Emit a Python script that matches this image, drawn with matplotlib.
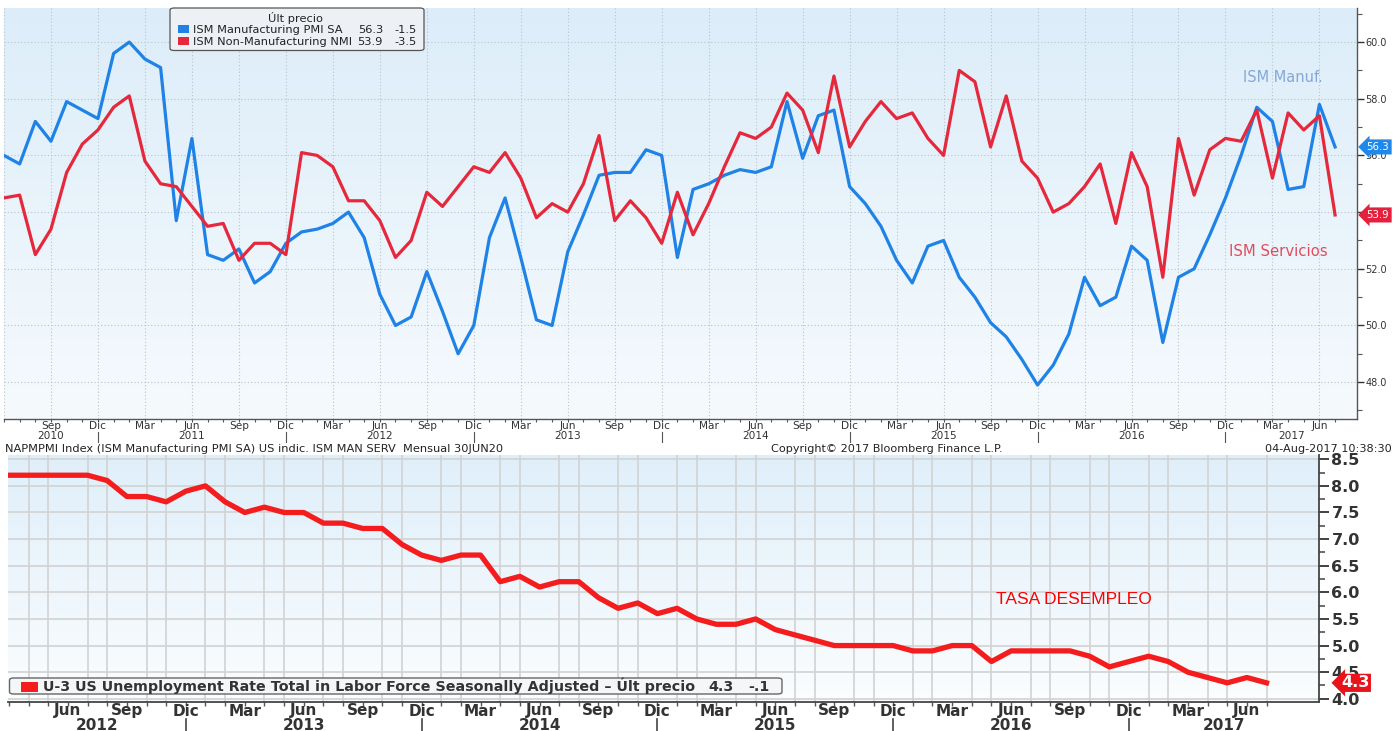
import numpy as np
import pandas as pd
import matplotlib
matplotlib.use("Agg")
import matplotlib.pyplot as plt
from matplotlib import transforms
from matplotlib.colors import LinearSegmentedColormap
from matplotlib.patches import FancyBboxPatch, Rectangle
from matplotlib.lines import Line2D
from matplotlib.ticker import MultipleLocator, FormatStrFormatter

# ---------------- data ----------------
ism_months = pd.period_range("2010-06", "2017-07", freq="M")
ism_manuf = [56.0, 55.7, 57.2, 56.5, 57.9, 57.6, 57.3, 59.6, 60.0, 59.4, 59.1, 53.7,
             56.6, 52.5, 52.3, 52.7, 51.5, 51.9, 52.9, 53.3, 53.4, 53.6, 54.0, 53.1,
             51.1, 50.0, 50.3, 51.9, 50.5, 49.0, 50.0, 53.1, 54.5, 52.4, 50.2, 50.0,
             52.6, 53.9, 55.3, 55.4, 55.4, 56.2, 56.0, 52.4, 54.8, 55.0, 55.3, 55.5,
             55.4, 55.6, 57.9, 55.9, 57.4, 57.6, 54.9, 54.3, 53.5, 52.3, 51.5, 52.8,
             53.0, 51.7, 51.0, 50.1, 49.6, 48.8, 47.9, 48.6, 49.7, 51.7, 50.7, 51.0,
             52.8, 52.3, 49.4, 51.7, 52.0, 53.2, 54.5, 56.0, 57.7, 57.2, 54.8, 54.9,
             57.8, 56.3]
ism_serv = [54.5, 54.6, 52.5, 53.4, 55.4, 56.4, 56.9, 57.7, 58.1, 55.8, 55.0, 54.9,
            54.2, 53.5, 53.6, 52.3, 52.9, 52.9, 52.5, 56.1, 56.0, 55.6, 54.4, 54.4,
            53.7, 52.4, 53.0, 54.7, 54.2, 54.9, 55.6, 55.4, 56.1, 55.2, 53.8, 54.3,
            54.0, 55.0, 56.7, 53.7, 54.4, 53.8, 52.9, 54.7, 53.2, 54.3, 55.6, 56.8,
            56.6, 57.0, 58.2, 57.6, 56.1, 58.8, 56.3, 57.2, 57.9, 57.3, 57.5, 56.6,
            56.0, 59.0, 58.6, 56.3, 58.1, 55.8, 55.2, 54.0, 54.3, 54.9, 55.7, 53.6,
            56.1, 54.9, 51.7, 56.6, 54.6, 56.2, 56.6, 56.5, 57.6, 55.2, 57.5, 56.9,
            57.4, 53.9]
unemp_months = pd.period_range("2012-03", "2017-07", freq="M")
unemp_rate = [8.2, 8.2, 8.2, 8.2, 8.2, 8.1, 7.8, 7.8, 7.7, 7.9, 8.0, 7.7,
              7.5, 7.6, 7.5, 7.5, 7.3, 7.3, 7.2, 7.2, 6.9, 6.7, 6.6, 6.7,
              6.7, 6.2, 6.3, 6.1, 6.2, 6.2, 5.9, 5.7, 5.8, 5.6, 5.7, 5.5,
              5.4, 5.4, 5.5, 5.3, 5.2, 5.1, 5.0, 5.0, 5.0, 5.0, 4.9, 4.9,
              5.0, 5.0, 4.7, 4.9, 4.9, 4.9, 4.9, 4.8, 4.6, 4.7, 4.8, 4.7,
              4.5, 4.4, 4.3, 4.4, 4.3]
month_abbr = {3: "Mar", 6: "Jun", 9: "Sep", 12: "Dic"}
manuf_label = "ISM Manufacturing PMI SA"
serv_label = "ISM Non-Manufacturing NMI"
manuf_last, manuf_chg = "56.3", "-1.5"
serv_last, serv_chg = "53.9", "-3.5"
unemp_label = "U-3 US Unemployment Rate Total in Labor Force Seasonally Adjusted \u2013 \u00dalt precio"
unemp_last, unemp_chg = "4.3", "-.1"

# ---------------- figure ----------------
W, H = 1393, 731
fig = plt.figure(figsize=(W / 100, H / 100), dpi=100)
fig.patch.set_facecolor("white")


def fx(x):
    return x / W


def fy(y):
    return 1 - y / H


def rect_px(x0, y0, x1, y1):
    return [fx(x0), fy(y1), (x1 - x0) / W, (y1 - y0) / H]


BLUE = "#1e82e6"
RED = "#e6283c"
RED2 = "#f41c1c"
TXT = "#333333"

grad_top = LinearSegmentedColormap.from_list("g1", ["#f6fafd", "#dcedf9"])
grad_bot = LinearSegmentedColormap.from_list("g2", ["#fbfdfe", "#dfeffa"])

# ---------- top panel ----------
r1 = rect_px(4, 7.5, 1357, 419)
bg1 = fig.add_axes(r1, zorder=0)
bg1.imshow(np.linspace(0, 1, 256).reshape(-1, 1), aspect="auto", cmap=grad_top,
           origin="lower", extent=[0, 1, 0, 1])
bg1.set_axis_off()
ax1 = fig.add_axes(r1, zorder=1)
ax1.set_facecolor("none")

x1 = np.arange(len(ism_months))
ax1.plot(x1, ism_manuf, color=BLUE, lw=2.3, zorder=3)
ax1.plot(x1, ism_serv, color=RED, lw=2.3, zorder=4)
ax1.set_xlim(0, 86.4)
ax1.set_ylim(46.7, 61.22)

q1 = [k for k, p in enumerate(ism_months) if p.month in month_abbr]
ax1.set_xticks(q1)
ax1.set_xticks(x1, minor=True)
ax1.set_xticklabels([])
ax1.tick_params(axis="x", which="both", direction="out", length=2.3, width=0.8,
                color="#555555")
ax1.yaxis.tick_right()
ax1.yaxis.set_major_locator(MultipleLocator(2))
ax1.yaxis.set_minor_locator(MultipleLocator(1))
ax1.yaxis.set_major_formatter(FormatStrFormatter("%.1f"))
ax1.tick_params(axis="y", which="major", length=5, width=1.0, color="#333333",
                labelsize=7, labelcolor=TXT, pad=1)
ax1.tick_params(axis="y", which="minor", length=3.5, width=0.8, color="#555555")
ax1.grid(True, which="major", color="#b9c3cc", linestyle=(0, (1, 2)), lw=0.8)
for s in ("left", "top"):
    ax1.spines[s].set_visible(False)
for s in ("bottom", "right"):
    ax1.spines[s].set_color("#555555")
    ax1.spines[s].set_linewidth(1.0)

bt1 = transforms.blended_transform_factory(ax1.transData, fig.transFigure)
for k, p in enumerate(ism_months):
    if p.month in month_abbr and k >= 2:
        fig.text(k, fy(429.3), month_abbr[p.month], transform=bt1, ha="center",
                 va="baseline", fontsize=7.6, color=TXT)
    if p.month == 12:
        fig.add_artist(Line2D([k, k], [fy(431.5), fy(441.5)], transform=bt1,
                              color="#555555", lw=0.8))
dec1 = [k for k, p in enumerate(ism_months) if p.month == 12]
bounds1 = [0] + dec1 + [86.4]
years1 = sorted(set(p.year for p in ism_months))
for i, yr in enumerate(years1):
    c = (bounds1[i] + bounds1[i + 1]) / 2
    fig.text(c, fy(439.3), str(yr), transform=bt1, ha="center", va="baseline",
             fontsize=7.6, color=TXT)

# badges top
bty1 = transforms.blended_transform_factory(ax1.transAxes, ax1.transData)
ax1.text(1 + 9.5 / 1353, ism_manuf[-1], manuf_last, transform=bty1, ha="left",
         va="center", fontsize=7.3, color="white", zorder=10, clip_on=False,
         bbox=dict(boxstyle="larrow,pad=0.25", fc="#1f88ea", ec="none"))
ax1.text(1 + 9.5 / 1353, ism_serv[-1], serv_last, transform=bty1, ha="left",
         va="center", fontsize=7.3, color="white", zorder=10, clip_on=False,
         bbox=dict(boxstyle="larrow,pad=0.25", fc="#e4203c", ec="none"))

# series labels
fig.text(fx(1283), fy(78), "ISM Manuf.", ha="center", va="center", fontsize=10.5,
         color="#86a8d8")
fig.text(fx(1278), fy(251), "ISM Servicios", ha="center", va="center",
         fontsize=10.7, color="#df4d5a")

# top legend
fig.add_artist(FancyBboxPatch((fx(170), fy(50.5)), 254 / W, 42.5 / H,
                              boxstyle="round,pad=0,rounding_size=0.003",
                              transform=fig.transFigure, fc="#edf1f5",
                              ec="#555555", lw=0.9, zorder=20))
fig.text(fx(296), fy(21.5), "\u00dalt precio", ha="center", va="baseline",
         fontsize=8.2, color="#222222", zorder=21)
for yb, col, lab, last, chg in ((33.3, BLUE, manuf_label, manuf_last, manuf_chg),
                                (45.0, RED, serv_label, serv_last, serv_chg)):
    fig.add_artist(Rectangle((fx(177.5), fy(yb)), 11.5 / W, 8 / H,
                             transform=fig.transFigure, fc=col, ec="none",
                             zorder=21))
    fig.text(fx(193), fy(yb), lab, ha="left", va="baseline", fontsize=8.2,
             color="#222222", zorder=21)
    fig.text(fx(383), fy(yb), last, ha="right", va="baseline", fontsize=8.2,
             color="#222222", zorder=21)
    fig.text(fx(417), fy(yb), chg, ha="right", va="baseline", fontsize=8.2,
             color="#222222", zorder=21)

# footer line
fig.text(fx(5), fy(451.7),
         "NAPMPMI Index (ISM Manufacturing PMI SA) US indic. ISM MAN SERV  Mensual 30JUN20",
         ha="left", va="baseline", fontsize=8.2, color="#222222")
fig.text(fx(771), fy(451.7), "Copyright\u00a9 2017 Bloomberg Finance L.P.",
         ha="left", va="baseline", fontsize=8.1, color="#222222")
fig.text(fx(1392), fy(451.7), "04-Aug-2017 10:38:30", ha="right",
         va="baseline", fontsize=8.1, color="#222222")

# ---------- bottom panel ----------
r2 = rect_px(8, 455, 1319, 702)
bg2 = fig.add_axes(r2, zorder=0)
bg2.imshow(np.linspace(0, 1, 256).reshape(-1, 1), aspect="auto", cmap=grad_bot,
           origin="lower", extent=[0, 1, 0, 1])
bg2.set_axis_off()
ax2 = fig.add_axes(r2, zorder=1)
ax2.set_facecolor("none")

x2 = np.arange(len(unemp_months))
ax2.plot(x2, unemp_rate, color=RED2, lw=3.8, zorder=3, solid_joinstyle="round")
ax2.set_xlim(-0.05, 66.67)
ax2.set_ylim(3.94, 8.58)

q2 = [k for k, p in enumerate(unemp_months) if p.month in month_abbr]
ax2.set_xticks(q2)
ax2.set_xticks(x2, minor=True)
ax2.set_xticklabels([])
ax2.tick_params(axis="x", which="both", direction="out", length=2.8, width=1.0,
                color="#555555")
ax2.yaxis.tick_right()
ax2.yaxis.set_major_locator(MultipleLocator(0.5))
ax2.yaxis.set_minor_locator(MultipleLocator(0.25))
ax2.yaxis.set_major_formatter(FormatStrFormatter("%.1f"))
ax2.tick_params(axis="y", which="major", length=7, width=1.3, color="#333333",
                labelsize=11.5, labelcolor="#333333", pad=2)
ax2.tick_params(axis="y", which="minor", length=4.3, width=1.1, color="#444444")
for lab in ax2.get_yticklabels():
    lab.set_fontweight("bold")
ax2.grid(True, which="minor", axis="x", color="#d2d2d2", lw=1.2)
ax2.grid(True, which="major", axis="y", color="#d2d2d2", lw=1.2)
for s in ("left", "top"):
    ax2.spines[s].set_visible(False)
for s in ("bottom", "right"):
    ax2.spines[s].set_color("#444444")
    ax2.spines[s].set_linewidth(1.3)

bt2 = transforms.blended_transform_factory(ax2.transData, fig.transFigure)
for k, p in enumerate(unemp_months):
    if p.month in month_abbr and k >= 2:
        fig.text(k, fy(715.5), month_abbr[p.month], transform=bt2, ha="center",
                 va="baseline", fontsize=11, fontweight="bold", color="#333333")
    if p.month == 12:
        fig.add_artist(Line2D([k, k], [fy(718.5), fy(731)], transform=bt2,
                              color="#444444", lw=1.2))
dec2 = [k for k, p in enumerate(unemp_months) if p.month == 12]
bounds2 = [-0.05] + dec2 + [66.67]
years2 = sorted(set(p.year for p in unemp_months))
for i, yr in enumerate(years2):
    c = (bounds2[i] + bounds2[i + 1]) / 2
    fig.text(c, fy(729.5), str(yr), transform=bt2, ha="center", va="baseline",
             fontsize=11, fontweight="bold", color="#333333")

bty2 = transforms.blended_transform_factory(ax2.transAxes, ax2.transData)
ax2.text(1 + 22 / 1311, unemp_rate[-1], unemp_last, transform=bty2, ha="left",
         va="center", fontsize=11.5, fontweight="bold", color="white", zorder=10,
         clip_on=False,
         bbox=dict(boxstyle="larrow,pad=0.1", fc="#e8141c", ec="none"))

fig.text(fx(1074), fy(600), "TASA DESEMPLEO", ha="center", va="center",
         fontsize=12.5, color="#ff0000",
         family=["Liberation Sans Narrow", "Liberation Sans", "DejaVu Sans"])

# bottom legend
fig.add_artist(FancyBboxPatch((fx(9.5), fy(694)), 772.5 / W, 16 / H,
                              boxstyle="round,pad=0,rounding_size=0.003",
                              transform=fig.transFigure, fc="#f4f6f8",
                              ec="#666666", lw=1.0, zorder=20))
fig.add_artist(Rectangle((fx(21), fy(691.5)), 16.5 / W, 9.5 / H,
                         transform=fig.transFigure, fc=RED2, ec="none", zorder=21))
fig.text(fx(43), fy(691), unemp_label, ha="left", va="baseline", fontsize=10.3,
         fontweight="bold", color="#333333", zorder=21)
fig.text(fx(708), fy(691), unemp_last, ha="left", va="baseline", fontsize=10.3,
         fontweight="bold", color="#333333", zorder=21)
fig.text(fx(748), fy(691), unemp_chg, ha="left", va="baseline", fontsize=10.3,
         fontweight="bold", color="#333333", zorder=21)

fig.savefig("out.png", dpi=100, facecolor="white")
